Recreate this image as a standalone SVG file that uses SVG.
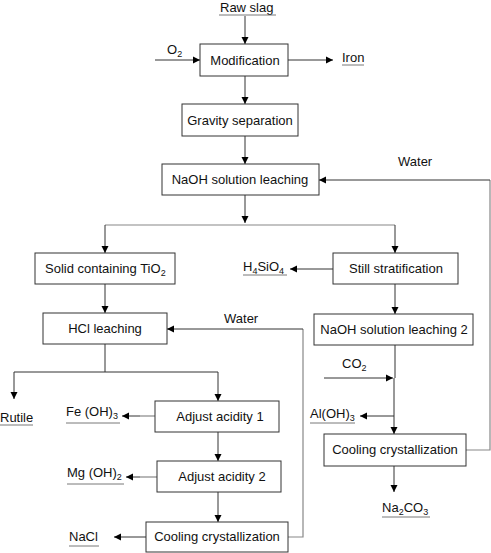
<svg xmlns="http://www.w3.org/2000/svg" width="491" height="553" viewBox="0 0 491 553">
<defs>
<marker id="ah" markerWidth="8" markerHeight="8" refX="7" refY="4" orient="auto" markerUnits="userSpaceOnUse">
<path d="M0,0.5 L7,4 L0,7.5 Z" fill="#000"/>
</marker>
<style>
.box{fill:#fff;stroke:#333;stroke-width:1}
.t{font-family:"Liberation Sans",Arial,sans-serif;font-size:13px;fill:#111}
.s{font-size:9px}
.c{fill:none;stroke:#333;stroke-width:1}
.g{fill:none;stroke:#888;stroke-width:1.2}
.a{marker-end:url(#ah)}
.u{stroke:#555;stroke-width:0.8}
</style>
</defs>
<rect width="491" height="553" fill="#fff"/>
<g id="connectors">
<path class="c a" d="M245,16 V44"/>
<path class="c a" d="M155,60 H200"/>
<path class="c a" d="M288,60 H333"/>
<path class="c a" d="M245,76 V104"/>
<path class="c a" d="M245,136 V164"/>
<path class="c a" d="M245,195 V223"/>
<path class="g" d="M105,225 H395"/>
<path class="c a" d="M105,225 V253"/>
<path class="c a" d="M395,225 V253"/>
<path class="g" d="M490,180 V450 H466"/>
<path class="c a" d="M490,180 H319"/>
<path class="c a" d="M333,269 H290"/>
<path class="c a" d="M395,284 V314"/>
<path class="c a" d="M105,284 V313"/>
<path class="g" d="M288,537 H303 V329"/>
<path class="c a" d="M303,329 H167"/>
<path class="c" d="M105,344 V372"/>
<path class="c" d="M14,372 H218"/>
<path class="c a" d="M14,372 V399"/>
<path class="c a" d="M218,372 V401"/>
<path class="g" d="M155,416 H140"/>
<path class="c a" d="M140,416 H122"/>
<path class="c a" d="M218,432 V461"/>
<path class="g" d="M157,477 H140"/>
<path class="c a" d="M140,477 H126"/>
<path class="c a" d="M218,492 V522"/>
<path class="c a" d="M146,537 H114"/>
<path class="c" d="M395,345 V378"/>
<path class="c a" d="M324,378 H393"/>
<path class="c a" d="M394,378 V434"/>
<path class="c a" d="M394,416 H360"/>
<path class="c a" d="M394,466 V492"/>
</g>
<g id="n_rawslag"><text class="t" x="220" y="12">Raw slag</text><line class="u" x1="219" y1="15" x2="276" y2="15"/></g>
<g id="n_o2"><text class="t" x="167" y="54">O<tspan class="s" dy="3">2</tspan></text></g>
<g id="n_modification"><rect class="box" x="200" y="44" width="88" height="32"/><text class="t" x="245" y="65" text-anchor="middle">Modification</text></g>
<g id="n_iron"><text class="t" x="342" y="62">Iron</text><line class="u" x1="342" y1="65" x2="364" y2="65"/></g>
<g id="n_gravity"><rect class="box" x="182" y="104" width="116" height="32"/><text class="t" x="240" y="125" text-anchor="middle">Gravity separation</text></g>
<g id="n_naoh"><rect class="box" x="162" y="164" width="157" height="31"/><text class="t" x="240" y="184" text-anchor="middle">NaOH solution leaching</text></g>
<g id="n_water1"><text class="t" x="398" y="166">Water</text></g>
<g id="n_solid"><rect class="box" x="35" y="253" width="140" height="31"/><text class="t" x="45" y="273">Solid containing TiO<tspan class="s" dy="3">2</tspan></text></g>
<g id="n_still"><rect class="box" x="333" y="253" width="125" height="31"/><text class="t" x="396" y="273" text-anchor="middle">Still stratification</text></g>
<g id="n_h4sio4"><text class="t" x="243" y="271">H<tspan class="s" dy="3">4</tspan><tspan dy="-3">SiO</tspan><tspan class="s" dy="3">4</tspan></text><line class="u" x1="243" y1="275" x2="287" y2="275"/></g>
<g id="n_hcl"><rect class="box" x="43" y="313" width="124" height="31"/><text class="t" x="105" y="333" text-anchor="middle">HCl leaching</text></g>
<g id="n_water2"><text class="t" x="224" y="323">Water</text></g>
<g id="n_naoh2"><rect class="box" x="314" y="314" width="159" height="31"/><text class="t" x="394" y="334" text-anchor="middle">NaOH solution leaching 2</text></g>
<g id="n_co2"><text class="t" x="342" y="368">CO<tspan class="s" dy="3">2</tspan></text></g>
<g id="n_rutile"><text class="t" x="0" y="422">Rutile</text><line class="u" x1="0" y1="425" x2="33" y2="425"/></g>
<g id="n_adj1"><rect class="box" x="155" y="401" width="124" height="31"/><text class="t" x="220" y="421" text-anchor="middle">Adjust acidity 1</text></g>
<g id="n_feoh"><text class="t" x="66" y="416">Fe (OH)<tspan class="s" dy="3">3</tspan></text><line class="u" x1="66" y1="423" x2="120" y2="423"/></g>
<g id="n_aloh"><text class="t" x="310" y="418">Al(OH)<tspan class="s" dy="3">3</tspan></text><line class="u" x1="310" y1="423" x2="355" y2="423"/></g>
<g id="n_cool2"><rect class="box" x="324" y="434" width="142" height="32"/><text class="t" x="395" y="454" text-anchor="middle">Cooling crystallization</text></g>
<g id="n_adj2"><rect class="box" x="157" y="461" width="124" height="31"/><text class="t" x="222" y="481" text-anchor="middle">Adjust acidity 2</text></g>
<g id="n_mgoh"><text class="t" x="67" y="477">Mg (OH)<tspan class="s" dy="3">2</tspan></text><line class="u" x1="67" y1="484" x2="124" y2="484"/></g>
<g id="n_na2co3"><text class="t" x="382" y="512">Na<tspan class="s" dy="3">2</tspan><tspan dy="-3">CO</tspan><tspan class="s" dy="3">3</tspan></text><line class="u" x1="382" y1="517" x2="430" y2="517"/></g>
<g id="n_cool1"><rect class="box" x="146" y="522" width="142" height="30"/><text class="t" x="217" y="541" text-anchor="middle">Cooling crystallization</text></g>
<g id="n_nacl"><text class="t" x="69" y="541">NaCl</text><line class="u" x1="69" y1="546" x2="99" y2="546"/></g>
</svg>
